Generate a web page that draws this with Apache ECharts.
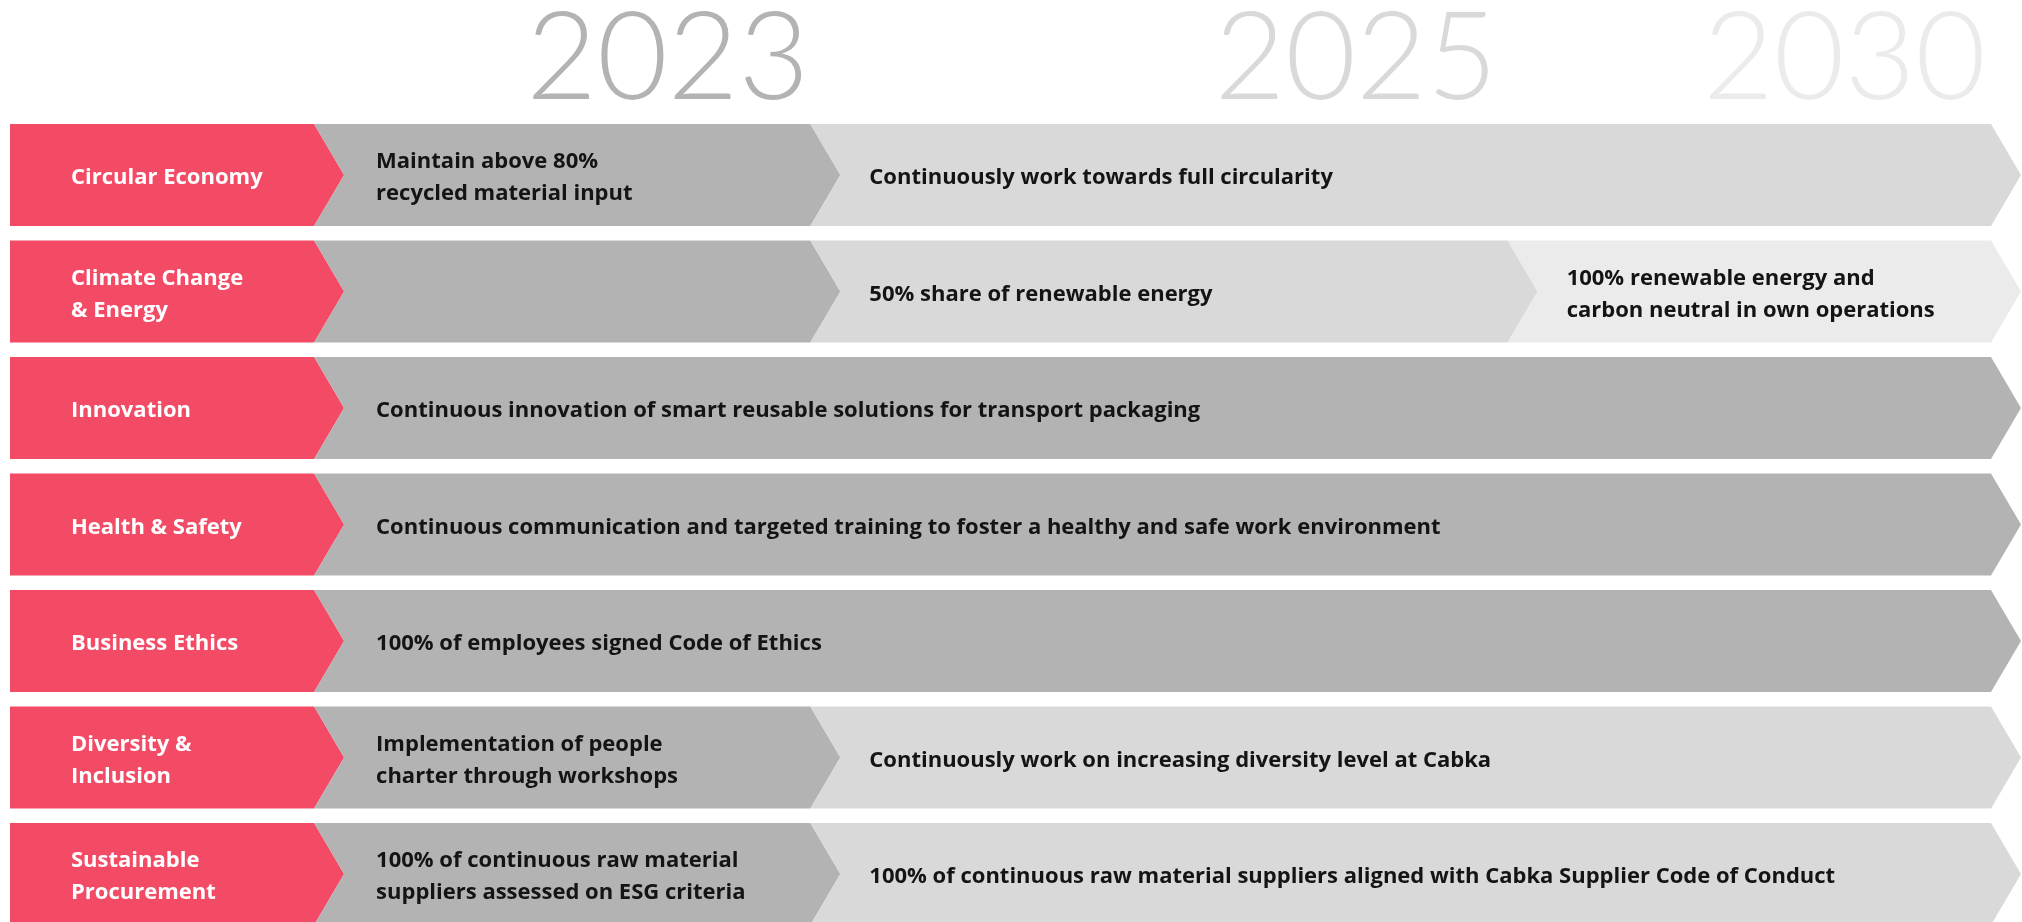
<!DOCTYPE html>
<html>
<head>
<meta charset="utf-8">
<script src="https://cdn.jsdelivr.net/npm/echarts@6/dist/echarts.min.js"></script>
<style>
  html, body { margin: 0; padding: 0; background: #ffffff; }
  #chart { width: 2022px; height: 922px; }
</style>
</head>
<body>
<div id="chart"></div>
<script>
// ---- data ----
const topics = ['Circular Economy', 'Climate Change\n& Energy', 'Innovation', 'Health & Safety',
  'Business Ethics', 'Diversity &\nInclusion', 'Sustainable\nProcurement'];
const years = ['2023', '2025', '2030'];
// timeline position (0–100) at which each column ends: topic column, 2023, 2025, 2030
const phaseEnds = [15.35, 40.4, 75.6, 100];
// where the big year headings sit on the same timeline scale
const yearTicks = [33.2, 67.95, 92.6];

const goals2023 = ['Maintain above 80%\nrecycled material input', '',
  'Continuous innovation of smart reusable solutions for transport packaging',
  'Continuous communication and targeted training to foster a healthy and safe work environment',
  '100% of employees signed Code of Ethics',
  'Implementation of people\ncharter through workshops',
  '100% of continuous raw material\nsuppliers assessed on ESG criteria'];
const span2023 = [1, 1, 3, 3, 3, 1, 1];
const goals2025 = ['Continuously work towards full circularity', '50% share of renewable energy', null, null, null,
  'Continuously work on increasing diversity level at Cabka',
  '100% of continuous raw material suppliers aligned with Cabka Supplier Code of Conduct'];
const span2025 = [2, 1, 0, 0, 0, 2, 2];
const goals2030 = [null, '100% renewable energy and\ncarbon neutral in own operations', null, null, null, null, null];
const span2030 = [0, 1, 0, 0, 0, 0, 0];

const shades = ['#f34b66', '#b3b3b3', '#d9d9d9', '#ebebeb'];
const yearColors = ['#b3b3b3', '#d9d9d9', '#ebebeb'];

// ---- build segments: [row, start, end, phase, text] ----
function phaseStart(p) { return p === 0 ? 0 : phaseEnds[p - 1]; }
const segments = [];
topics.forEach((t, r) => {
  segments.push([r, phaseStart(0), phaseEnds[0], 0, t]);
  [[goals2023, span2023, 1], [goals2025, span2025, 2], [goals2030, span2030, 3]].forEach(([g, s, p]) => {
    if (s[r] > 0) segments.push([r, phaseStart(p), phaseEnds[p + s[r] - 1], p, g[r]]);
  });
});

const TIP = 30;
const TEXT_PAD = [61, 62, 59, 59];
const BODY_FONT = 'bold 22px "Open Sans", "Noto Sans", sans-serif';
function renderItem(params, api) {
  const row = api.value(0), x0 = api.value(1), x1 = api.value(2), phase = api.value(3);
  const text = segments[params.dataIndex][4];
  const a = api.coord([x0, row]);
  const b = api.coord([x1, row]);
  const band = api.size([0, 1])[1];
  const h = band * 0.876;
  const top = a[1] - h / 2, bot = a[1] + h / 2, mid = a[1];
  const notch = phase > 0 ? TIP : 0;
  return {
    type: 'group',
    children: [{
      type: 'polygon',
      shape: { points: [[a[0], top], [b[0], top], [b[0] + TIP, mid], [b[0], bot], [a[0], bot], [a[0] + notch, mid]] },
      style: { fill: shades[phase] }
    }, {
      type: 'text',
      x: a[0] + TEXT_PAD[phase],
      y: mid + 3,
      style: {
        text: text,
        fill: phase === 0 ? '#ffffff' : '#141414',
        font: BODY_FONT,
        lineHeight: 32,
        verticalAlign: 'middle',
        align: 'left'
      }
    }]
  };
}

function renderYear(params, api) {
  const i = params.dataIndex;
  const p = api.coord([api.value(0), 0]);
  const band = api.size([0, 1])[1];
  return {
    type: 'text',
    x: p[0],
    y: p[1] - band / 2 - 57,
    style: {
      text: years[i],
      fill: yearColors[i],
      font: '300 122px Lato, "Open Sans", sans-serif',
      align: 'center',
      verticalAlign: 'middle'
    }
  };
}

const chart = echarts.init(document.getElementById('chart'), null, { renderer: 'canvas' });
chart.setOption({
  animation: false,
  backgroundColor: '#ffffff',
  grid: { left: 10, right: 31, top: 116.75, height: 815.5, outerBoundsMode: 'none', containLabel: false },
  xAxis: {
    type: 'value', min: 0, max: 100, show: false
  },
  yAxis: { type: 'category', data: topics, inverse: true, show: false },
  series: [{
    type: 'custom',
    renderItem: renderItem,
    encode: { x: [1, 2], y: 0 },
    data: segments.map(s => [s[0], s[1], s[2], s[3]]),
    clip: false
  }, {
    type: 'custom',
    renderItem: renderYear,
    encode: { x: 0 },
    data: yearTicks.map(v => [v]),
    clip: false
  }]
});
</script>
</body>
</html>
